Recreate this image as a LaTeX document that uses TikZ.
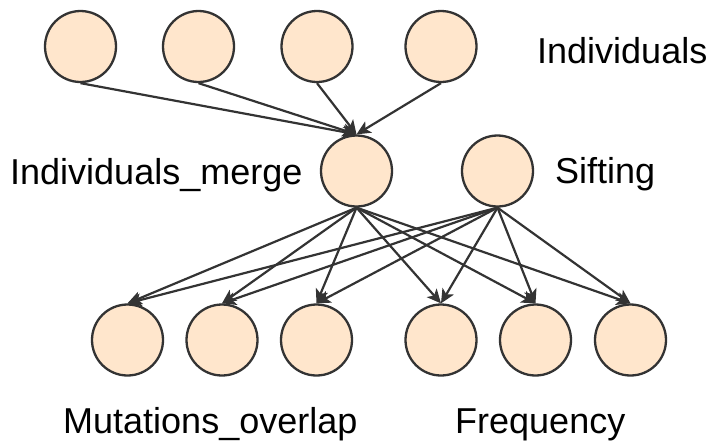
\documentclass[tikz,border=0pt]{standalone}
\usepackage{fontspec}
\setmainfont{Liberation Sans}
\usetikzlibrary{arrows.meta}
\definecolor{edgegray}{HTML}{333333}
\definecolor{peach}{HTML}{FFE6CC}
\begin{document}
\begin{tikzpicture}[x=1pt,y=-1pt,
  dot/.style={circle,draw=edgegray,fill=peach,line width=2.3pt,minimum size=71pt,inner sep=0pt},
  link/.style={draw=edgegray,line width=2.2pt,-{Stealth[length=14pt,width=13pt,inset=3.5pt]}},
  caption/.style={anchor=base west,inner sep=0pt,font=\fontsize{36}{43}\selectfont}]
\useasboundingbox (0,0) rectangle (709,440);

% individuals
\node[dot] (t1) at (80.5,46.5) {};
\node[dot] (t2) at (198.5,46.5) {};
\node[dot] (t3) at (317,46.5) {};
\node[dot] (t4) at (441,46.5) {};

% merge and sifting
\node[dot] (m) at (356.5,171) {};
\node[dot] (s) at (497.5,171) {};

% outputs
\node[dot] (b1) at (127.5,340) {};
\node[dot] (b2) at (222,340) {};
\node[dot] (b3) at (316.5,340) {};
\node[dot] (b4) at (441,340) {};
\node[dot] (b5) at (535.5,340) {};
\node[dot] (b6) at (630.5,340) {};

% labels
\node[caption] (lind) at (537,63) {Individuals};
\node[caption] (lmerge) at (10,184) {Individuals\_merge};
\node[caption] (lsift) at (555,183) {Sifting};
\node[caption] (lmut) at (63,433) {Mutations\_overlap};
\node[caption] (lfreq) at (455,433) {Frequency};

% connectors
\foreach \t in {t1,t2,t3,t4}
  \draw[link] (\t.south) -- (m.north);
\foreach \b in {b1,b2,b3,b4,b5,b6} {
  \draw[link] (m.south) -- (\b.north);
  \draw[link] (s.south) -- (\b.north);
}
\end{tikzpicture}
\end{document}
